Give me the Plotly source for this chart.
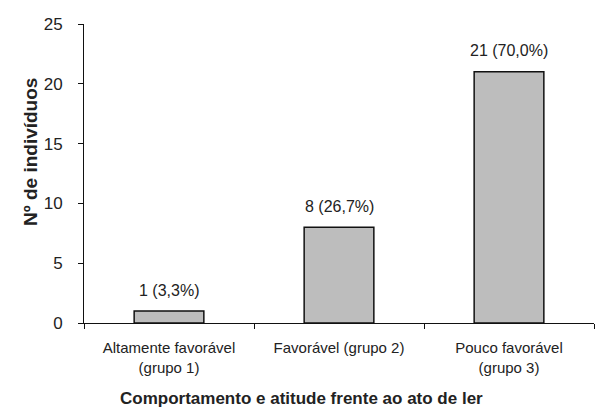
import plotly.graph_objects as go

categories = ["Altamente favorável<br>(grupo 1)", "Favorável (grupo 2)", "Pouco favorável<br>(grupo 3)"]
values = [1, 8, 21]
labels = ["1 (3,3%)", "8 (26,7%)", "21 (70,0%)"]
y_ticks = [0, 5, 10, 15, 20, 25]

W, H = 603, 415
L, R, T, B = 84, 9, 24, 92
pw, ph = W - L - R, H - T - B

fig = go.Figure(go.Bar(
    x=categories, y=values,
    marker=dict(color="#bdbdbd", line=dict(color="#111", width=1.5)),
    width=0.41,
))
for c, v, t in zip(categories, values, labels):
    fig.add_annotation(x=c, y=v, text=t, showarrow=False, yanchor="middle",
                       yshift=21, font=dict(size=16, color="#222"))
fig.add_annotation(xref="paper", yref="paper", x=(W / 2 - L) / pw, y=-(398 - (H - B)) / ph,
                   text="<b>Comportamento e atitude frente ao ato de ler</b>",
                   showarrow=False, xanchor="center", yanchor="middle",
                   font=dict(size=17, color="#222"))
fig.add_annotation(xref="paper", yref="paper", x=-(L - 30) / pw, y=(H - B - 152) / ph,
                   text="<b>Nº de indivíduos</b>", textangle=-90,
                   showarrow=False, xanchor="center", yanchor="middle",
                   font=dict(size=19, color="#222"))
fig.update_layout(
    width=W, height=H, margin=dict(l=L, r=R, t=T, b=B),
    plot_bgcolor="white", paper_bgcolor="white",
    font=dict(family="Liberation Sans, Arial", size=15, color="#222"),
    showlegend=False,
    xaxis=dict(showline=True, linecolor="#111", linewidth=1, ticks="outside",
               tickson="boundaries", ticklen=5, tickcolor="#111",
               tickfont=dict(size=15), ticklabelstandoff=11),
    yaxis=dict(range=[0, 25], tickvals=y_ticks, showline=True, linecolor="#111",
               linewidth=1, ticks="outside", ticklen=5, tickcolor="#111",
               showgrid=False, zeroline=False, tickfont=dict(size=17),
               ticklabelstandoff=12),
)
fig.write_html("out.html")
